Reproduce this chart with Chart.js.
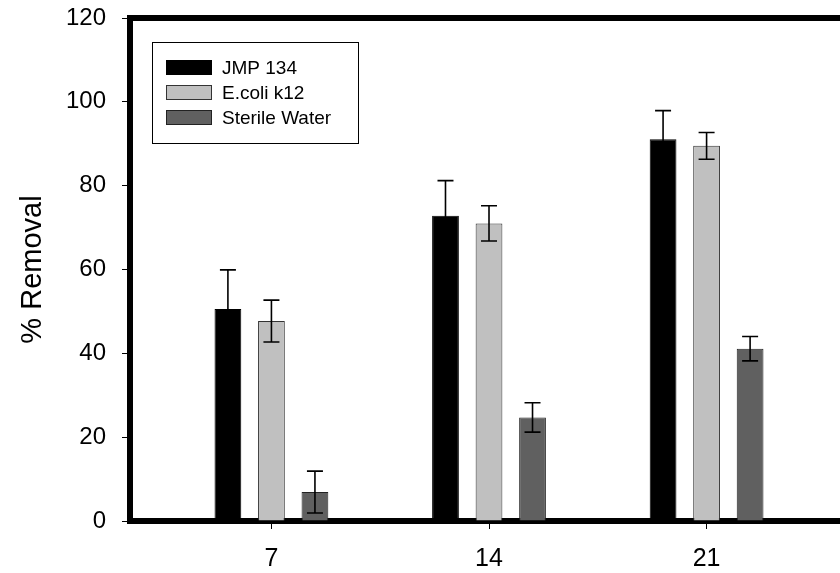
<!DOCTYPE html>
<html>
<head>
<meta charset="utf-8">
<script src="https://cdn.jsdelivr.net/npm/chart.js@4.4.0/dist/chart.umd.min.js"></script>
<style>
  html, body { margin: 0; padding: 0; background: #fff; overflow: hidden; }
  #wrap { width: 880px; height: 573px; }
</style>
</head>
<body>
<div id="wrap"><canvas id="c" width="880" height="573"></canvas></div>
<script>
// % removal by day, three treatments, mean +/- error
const days = [7, 14, 21];
const yTicks = [0, 20, 40, 60, 80, 100, 120];

const jmp134 = [50.6, 72.8, 91.1];
const jmp134Err = [9.3, 8.4, 6.8];
const ecoliK12 = [47.7, 71.0, 89.5];
const ecoliK12Err = [5.0, 4.2, 3.2];
const sterileWater = [6.9, 24.7, 41.1];
const sterileWaterErr = [5.0, 3.5, 2.9];

const FONT = 'Arial, "Liberation Sans", sans-serif';

const toPoints = vals => vals.map((v, i) => ({ x: days[i], y: v }));

const series = [
  { label: 'JMP 134', values: jmp134, errs: jmp134Err, fill: '#000000', edge: '#000000' },
  { label: 'E.coli k12', values: ecoliK12, errs: ecoliK12Err, fill: '#c0c0c0', edge: '#333333' },
  { label: 'Sterile Water', values: sterileWater, errs: sterileWaterErr, fill: '#606060', edge: '#222222' },
];

// error bars: vertical whisker with caps, drawn over bars
const errorBars = {
  id: 'errorBars',
  afterDatasetsDraw(chart) {
    const ctx = chart.ctx;
    const y = chart.scales.y;
    ctx.save();
    ctx.strokeStyle = '#000';
    ctx.lineWidth = 1.6;
    chart.data.datasets.forEach((ds, di) => {
      const meta = chart.getDatasetMeta(di);
      meta.data.forEach((bar, i) => {
        const v = ds.data[i].y, e = ds.errs[i];
        const top = y.getPixelForValue(v + e), bot = y.getPixelForValue(v - e);
        ctx.beginPath();
        ctx.moveTo(bar.x, top); ctx.lineTo(bar.x, bot);
        ctx.moveTo(bar.x - 8, top); ctx.lineTo(bar.x + 8, top);
        ctx.moveTo(bar.x - 8, bot); ctx.lineTo(bar.x + 8, bot);
        ctx.stroke();
      });
    });
    ctx.restore();
  }
};

// top + right edge of the frame (left/bottom come from the axis borders)
const frame = {
  id: 'frame',
  afterDraw(chart) {
    const { left, right, top, bottom } = chart.chartArea;
    const ctx = chart.ctx;
    ctx.save();
    ctx.strokeStyle = '#000';
    ctx.lineWidth = 6;
    ctx.beginPath();
    ctx.moveTo(left - 3, top); ctx.lineTo(right, top); ctx.lineTo(right, bottom);
    ctx.stroke();
    ctx.restore();
  }
};

// boxed legend in the upper-left corner of the plot
const boxLegend = {
  id: 'boxLegend',
  afterDraw(chart) {
    const ctx = chart.ctx;
    const x0 = 152.5, y0 = 42.5;
    ctx.save();
    ctx.strokeStyle = '#000';
    ctx.lineWidth = 1;
    ctx.strokeRect(x0, y0, 206, 101);
    ctx.font = '19px ' + FONT;
    ctx.textBaseline = 'middle';
    chart.data.datasets.forEach((ds, i) => {
      const cy = 67.5 + i * 25;
      ctx.fillStyle = ds.backgroundColor;
      ctx.fillRect(166, cy - 7.5, 46, 15);
      ctx.strokeStyle = ds.borderColor;
      ctx.strokeRect(166.5, cy - 7, 45, 14);
      ctx.fillStyle = '#000';
      ctx.fillText(ds.label, 222, cy + 1);
    });
    ctx.restore();
  }
};

new Chart(document.getElementById('c'), {
  type: 'bar',
  data: {
    datasets: series.map(s => ({
      label: s.label,
      data: toPoints(s.values),
      errs: s.errs,
      backgroundColor: s.fill,
      borderColor: s.edge,
      borderWidth: 1,
      categoryPercentage: 0.6,
      barPercentage: 0.615,
    }))
  },
  options: {
    responsive: false,
    animation: false,
    devicePixelRatio: 1,
    layout: { padding: { top: 18, right: 18, left: 0, bottom: 0 } },
    plugins: { legend: { display: false }, tooltip: { enabled: false } },
    scales: {
      x: {
        type: 'linear', min: 2.45, max: 26, offset: false, z: 1,
        afterBuildTicks: s => { s.ticks = days.map(v => ({ value: v })); },
        afterFit: s => { s.height = 52; },
        grid: { drawOnChartArea: false, drawTicks: true, tickLength: 8, tickColor: '#000', lineWidth: 1, offset: false },
        border: { color: '#000', width: 6 },
        ticks: { color: '#000', font: { family: FONT, size: 25 }, padding: 15, maxRotation: 0 },
      },
      y: {
        min: 0, max: 120, z: 1,
        afterBuildTicks: s => { s.ticks = yTicks.map(v => ({ value: v })); },
        afterFit: s => { s.width = 130; s.paddingTop = 0; s.paddingBottom = 0; },
        grid: { drawOnChartArea: false, drawTicks: true, tickLength: 8, tickColor: '#000', lineWidth: 1 },
        border: { color: '#000', width: 6 },
        ticks: { color: '#000', font: { family: FONT, size: 24 }, padding: 16 },
        title: { display: true, text: '% Removal', color: '#000', font: { family: FONT, size: 29 }, padding: { top: 16, bottom: 0 } },
      }
    }
  },
  plugins: [errorBars, frame, boxLegend]
});
</script>
</body>
</html>
